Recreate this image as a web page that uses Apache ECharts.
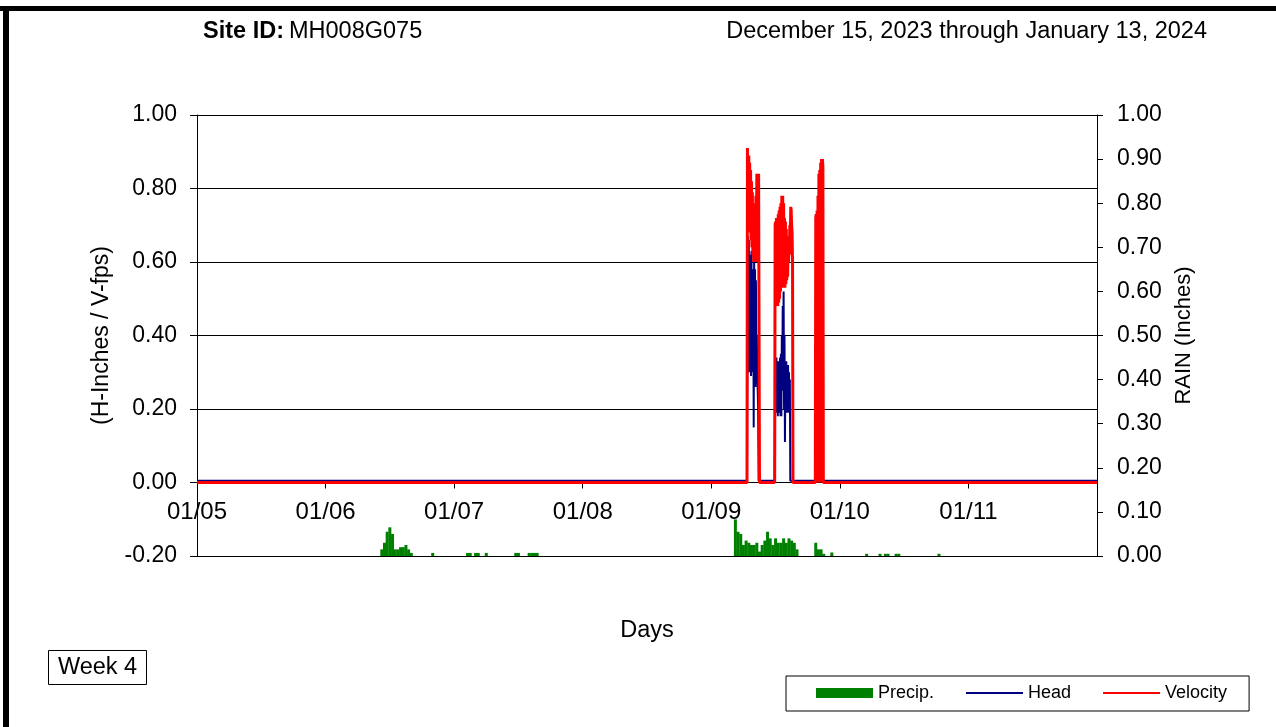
<!DOCTYPE html>
<html><head><meta charset="utf-8">
<script src="https://cdn.jsdelivr.net/npm/echarts@6/dist/echarts.min.js"></script>
<style>html,body{margin:0;padding:0;background:#fff}#c{width:1276px;height:727px}</style>
</head><body><div id="c"></div>
<script>
const siteIdLabel = 'Site ID:';
const siteId = 'MH008G075';
const dateRange = 'December 15, 2023 through January 13, 2024';
const weekLabel = 'Week 4';
const xAxisTitle = 'Days';
const leftAxisTitle = '(H-Inches / V-fps)';
const rightAxisTitle = 'RAIN (Inches)';
const xTickLabels = ['01/05','01/06','01/07','01/08','01/09','01/10','01/11'];
const seriesNames = ['Precip.','Head','Velocity'];

// Flow monitor readings (month-day hour:minute, January 2024)
const flowTimes = [
 '01-05 00:00',
 '01-09 06:40','01-09 06:45','01-09 06:50','01-09 06:55','01-09 07:00','01-09 07:05','01-09 07:10','01-09 07:15',
 '01-09 07:20','01-09 07:25','01-09 07:30','01-09 07:35','01-09 07:40','01-09 07:45','01-09 07:50','01-09 07:55',
 '01-09 08:00','01-09 08:05','01-09 08:10','01-09 08:15','01-09 08:20','01-09 08:25','01-09 08:30','01-09 08:35',
 '01-09 08:40','01-09 08:45','01-09 08:50','01-09 08:55','01-09 09:00',
 '01-09 11:50','01-09 11:55','01-09 12:00','01-09 12:05','01-09 12:10','01-09 12:15','01-09 12:20','01-09 12:25',
 '01-09 12:30','01-09 12:35','01-09 12:40','01-09 12:45','01-09 12:50','01-09 12:55','01-09 13:00','01-09 13:05',
 '01-09 13:10','01-09 13:15','01-09 13:20','01-09 13:25','01-09 13:30','01-09 13:35','01-09 13:40','01-09 13:45',
 '01-09 13:50','01-09 13:55','01-09 14:00','01-09 14:05','01-09 14:10','01-09 14:15','01-09 14:20','01-09 14:25',
 '01-09 14:30','01-09 14:35','01-09 14:40','01-09 14:45','01-09 14:50','01-09 14:55','01-09 15:00','01-09 15:05',
 '01-09 15:10','01-09 15:15',
 '01-09 19:25','01-09 19:30','01-09 19:35','01-09 19:40','01-09 19:45','01-09 19:50','01-09 19:55','01-09 20:00',
 '01-09 20:05','01-09 20:10','01-09 20:15','01-09 20:20','01-09 20:25','01-09 20:30','01-09 20:35','01-09 20:40',
 '01-09 20:45','01-09 20:50','01-09 20:55',
 '01-12 00:00'
];
const headValues = [
 0.005,
 0.005,0.45,0.67,0.32,0.66,0.30,0.62,0.33,
 0.60,0.29,0.63,0.31,0.58,0.30,0.58,0.15,
 0.60,0.27,0.58,0.26,0.55,0.30,0.40,0.30,
 0.30,0.20,0.005,0.005,0.005,
 0.005,0.30,0.33,0.20,0.34,0.19,0.32,0.18,
 0.33,0.19,0.32,0.20,0.34,0.18,0.35,0.18,
 0.40,0.25,0.48,0.30,0.52,0.20,0.40,0.11,
 0.30,0.19,0.33,0.19,0.30,0.20,0.32,0.19,
 0.30,0.20,0.28,0.005,0.005,0.005,0.005,0.005,
 0.005,0.005,
 0.005,0.005,0.005,0.005,0.005,0.005,0.005,0.005,
 0.005,0.005,0.005,0.005,0.005,0.005,0.005,0.005,
 0.005,0.005,0.005,
 0.005
];
const velocityValues = [
 0,
 0,0.91,0.91,0.72,0.89,0.70,0.87,0.68,
 0.85,0.66,0.82,0.64,0.79,0.62,0.76,0.60,
 0.74,0.60,0.74,0.60,0.78,0.60,0.84,0.70,
 0.84,0.76,0.84,0.84,0,
 0,0.70,0.71,0.50,0.72,0.49,0.72,0.48,
 0.73,0.49,0.74,0.50,0.75,0.52,0.76,0.53,
 0.78,0.55,0.78,0.54,0.76,0.53,0.72,0.53,
 0.71,0.54,0.69,0.55,0.67,0.56,0.65,0.60,
 0.64,0.62,0.70,0.66,0.75,0.74,0.70,0.68,
 0.60,0,
 0,0.72,0.73,0,0.74,0,0.78,0,
 0.84,0.05,0.85,0,0.87,0.02,0.88,0,
 0.88,0.86,0,
 0
];

// Rain gauge totals per 30-minute interval (inches)
const precipTimes = [
 '01-06 10:30','01-06 11:00','01-06 11:30','01-06 12:00','01-06 12:30','01-06 13:00','01-06 13:30','01-06 14:00',
 '01-06 14:30','01-06 15:00','01-06 15:30','01-06 16:00','01-06 20:00',
 '01-07 02:30','01-07 03:00','01-07 04:00','01-07 04:30','01-07 06:00','01-07 11:30','01-07 12:00',
 '01-07 14:00','01-07 14:30','01-07 15:00','01-07 15:30',
 '01-09 04:30','01-09 05:00','01-09 05:30','01-09 06:00','01-09 06:30','01-09 07:00','01-09 07:30','01-09 08:00',
 '01-09 08:30','01-09 09:00','01-09 09:30','01-09 10:00','01-09 10:30','01-09 11:00','01-09 11:30','01-09 12:00',
 '01-09 12:30','01-09 13:00','01-09 13:30','01-09 14:00','01-09 14:30','01-09 15:00','01-09 15:30','01-09 16:00',
 '01-09 19:30','01-09 20:00','01-09 20:30','01-09 21:00','01-09 22:30',
 '01-10 05:00','01-10 07:30','01-10 08:30','01-10 09:00','01-10 10:30','01-10 11:00','01-10 18:30'
];
const precipValues = [
 0.015,0.03,0.055,0.065,0.05,0.015,0.015,0.02,
 0.02,0.025,0.015,0.007,0.007,
 0.007,0.007,0.007,0.007,0.007,0.007,0.007,
 0.007,0.007,0.007,0.007,
 0.083,0.055,0.05,0.025,0.035,0.03,0.025,0.025,
 0.03,0.01,0.025,0.035,0.055,0.04,0.025,0.04,
 0.03,0.03,0.04,0.03,0.04,0.035,0.03,0.015,
 0.03,0.015,0.015,0.005,0.008,
 0.005,0.005,0.005,0.005,0.005,0.005,0.005
];

const DAY = 86400000;
function parseT(s) {
  const [md, hm] = s.split(' ');
  const [mo, d] = md.split('-').map(Number);
  const [h, mi] = hm.split(':').map(Number);
  return Date.UTC(2024, mo - 1, d, h, mi);
}
const t0 = parseT('01-05 00:00');
const tEnd = parseT('01-12 00:00');

const headData = flowTimes.map((t, i) => [parseT(t), headValues[i]]);
const velData = flowTimes.map((t, i) => [parseT(t), velocityValues[i]]);
const precipData = precipTimes.map((t, i) => [parseT(t), precipValues[i]]);

// grid geometry; x axis sits on the left axis zero level
const GRID_TOP = 115, GRID_BOTTOM = 171, GRID_H = 727 - GRID_TOP - GRID_BOTTOM;
const LEFT_MIN = -0.2, LEFT_MAX = 1.0;
const zeroOffset = GRID_H * (0 - LEFT_MIN) / (LEFT_MAX - LEFT_MIN);

const FONT = '"Liberation Sans", Arial, sans-serif';
const chart = echarts.init(document.getElementById('c'), null, {renderer: 'canvas'});
chart.setOption({
  animation: false,
  backgroundColor: '#fff',
  textStyle: {fontFamily: FONT, color: '#000'},
  title: [
    {text: '{b|' + siteIdLabel + '} {n|' + siteId + '}', left: 203, top: 20, padding: 0,
     textStyle: {fontWeight: 'normal', rich: {
       b: {fontFamily: FONT, fontWeight: 'bold', fontSize: 23.5, color: '#000'},
       n: {fontFamily: FONT, fontWeight: 'normal', fontSize: 23.5, color: '#000'}}}},
    {text: dateRange, right: 69, top: 20, padding: 0,
     textStyle: {fontFamily: FONT, fontWeight: 'normal', fontSize: 23.5, color: '#000'}}
  ],
  legend: {
    left: 786, top: 676,
    orient: 'horizontal',
    itemWidth: 57, itemHeight: 10, itemGap: 31,
    padding: [8, 22, 9, 30],
    borderColor: '#000', borderWidth: 1, backgroundColor: '#fff',
    textStyle: {fontFamily: FONT, fontSize: 18, color: '#000'},
    data: [
      {name: seriesNames[0], icon: 'rect'},
      {name: seriesNames[1], itemStyle: {opacity: 0}},
      {name: seriesNames[2], itemStyle: {opacity: 0}}
    ]
  },
  grid: {left: 197, right: 179, top: GRID_TOP, bottom: GRID_BOTTOM, containLabel: false},
  xAxis: {
    type: 'value', min: t0, max: tEnd, interval: DAY, position: 'bottom',
    offset: -zeroOffset,
    name: xAxisTitle, nameLocation: 'middle', nameGap: 136,
    nameTextStyle: {fontFamily: FONT, fontSize: 23.5, color: '#000'},
    axisLine: {onZero: false, lineStyle: {color: '#000', width: 1}},
    axisTick: {show: true, length: 6, lineStyle: {color: '#000'}},
    splitLine: {show: false},
    axisLabel: {
      showMaxLabel: false, margin: 18, fontFamily: FONT, fontSize: 24, color: '#000',
      formatter: v => xTickLabels[Math.round((v - t0) / DAY)] || ''
    }
  },
  yAxis: [
    {
      type: 'value', min: LEFT_MIN, max: LEFT_MAX, interval: 0.2, position: 'left',
      name: leftAxisTitle, nameLocation: 'middle', nameRotate: 90, nameGap: 84,
      nameTextStyle: {fontFamily: FONT, fontSize: 23, color: '#000'},
      axisLine: {show: true, onZero: false, lineStyle: {color: '#000'}},
      axisTick: {show: true, length: 7, lineStyle: {color: '#000'}},
      splitLine: {show: true, lineStyle: {color: '#000', width: 1}},
      axisLabel: {margin: 20, fontFamily: FONT, fontSize: 23, color: '#000', formatter: v => v.toFixed(2)}
    },
    {
      type: 'value', min: 0, max: 1.0, interval: 0.1, position: 'right',
      name: rightAxisTitle, nameLocation: 'middle', nameRotate: 90, nameGap: 76,
      nameTextStyle: {fontFamily: FONT, fontSize: 22, color: '#000'},
      axisLine: {show: true, onZero: false, lineStyle: {color: '#000'}},
      axisTick: {show: true, length: 6, lineStyle: {color: '#000'}},
      splitLine: {show: false},
      axisLabel: {margin: 20, fontFamily: FONT, fontSize: 23, color: '#000', formatter: v => v.toFixed(2)}
    }
  ],
  series: [
    {name: seriesNames[0], type: 'bar', yAxisIndex: 1, data: precipData, barWidth: 3,
     itemStyle: {color: '#008000'}, silent: true},
    {name: seriesNames[1], type: 'line', yAxisIndex: 0, data: headData, symbol: 'none',
     lineStyle: {color: '#000080', width: 2}, itemStyle: {color: '#000080'}},
    {name: seriesNames[2], type: 'line', yAxisIndex: 0, data: velData, symbol: 'none',
     lineStyle: {color: '#FF0000', width: 3}, itemStyle: {color: '#FF0000'}}
  ],
  graphic: [
    {type: 'rect', shape: {x: 0, y: 6, width: 1276, height: 5}, style: {fill: '#000'}},
    {type: 'rect', shape: {x: 3, y: 6, width: 6, height: 721}, style: {fill: '#000'}},
    {type: 'group', left: 48, top: 650, children: [
      {type: 'rect', shape: {x: 0.5, y: 0.5, width: 98, height: 34}, style: {fill: '#fff', stroke: '#000', lineWidth: 1}},
      {type: 'text', x: 49.5, y: 17.5, style: {text: weekLabel, font: '23.5px ' + FONT, fill: '#000', align: 'center', verticalAlign: 'middle'}}
    ]}
  ]
});
</script>
</body></html>
